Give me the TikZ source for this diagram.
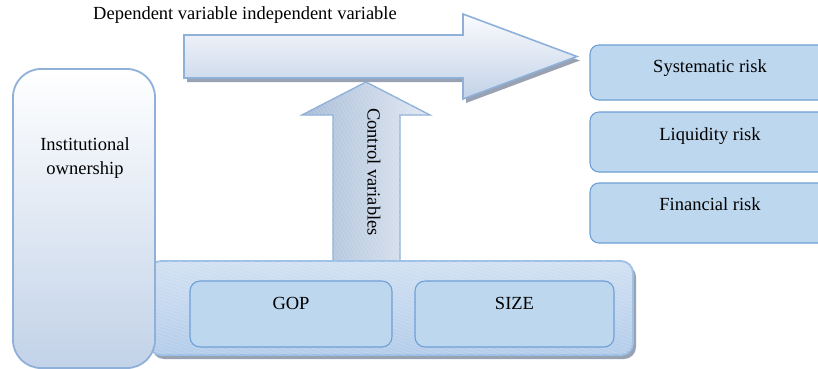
\documentclass[tikz,border=0pt]{standalone}
\usepackage{fontspec}
\setmainfont{Liberation Serif}
\usetikzlibrary{patterns.meta}
\definecolor{edgeblue}{HTML}{8FB0D9}
\definecolor{boxedge}{HTML}{6E9FD6}
\definecolor{boxfill}{HTML}{BDD7EE}
\definecolor{arrowtop}{HTML}{FAFBFD}
\definecolor{arrowbot}{HTML}{C2D2E8}
\definecolor{upleft}{HTML}{A9BDD8}
\definecolor{upright}{HTML}{E2E9F3}
\definecolor{basetop}{HTML}{D2E1F3}
\definecolor{basebot}{HTML}{B4CDEA}
\definecolor{baseedge}{HTML}{9DC0E6}
\definecolor{shadowgray}{HTML}{98A2B2}
\tikzset{
  lbl/.style={font=\fontsize{18.5}{22}\selectfont, text=black, inner sep=0pt},
  riskbox/.style={draw=boxedge, fill=boxfill, line width=1.1pt, rounded corners=9pt,
    minimum width=240pt, inner sep=0pt},
  varbox/.style={draw=boxedge, fill=boxfill, line width=1.1pt, rounded corners=10pt,
    minimum height=66pt, inner sep=0pt},
  hatch/.style={pattern={Lines[angle=#1,distance=3.2pt,line width=0.5pt]},
    pattern color=white, opacity=0.22}
}
\begin{document}
\begin{tikzpicture}[x=1pt,y=-1pt]
\useasboundingbox (0,0) rectangle (818,368);
\clip (0,0) rectangle (818,368);

% main horizontal arrow with its drop shadow
\fill[shadowgray] (187,39) -- (466,39) -- (466,18) -- (580,60.5) -- (466,103) -- (466,82) -- (187,82) -- cycle;
\path[draw=edgeblue, line width=1.6pt, top color=arrowtop, bottom color=arrowbot]
  (184,35) -- (463,35) -- (463,14) -- (577,56.5) -- (463,99) -- (463,78) -- (184,78) -- cycle;

% upward arrow for the control variables
\path[draw=edgeblue, line width=1.4pt, left color=upleft, right color=upright]
  (333,285) -- (333,115) -- (302,115) -- (366,82) -- (430,115) -- (400,115) -- (400,285) -- cycle;
\fill[hatch=-60] (333,285) -- (333,115) -- (302,115) -- (366,82) -- (430,115) -- (400,115) -- (400,285) -- cycle;
\node[lbl, rotate=-90] (ctrl) at (374,172) {Control variables};

% base panel holding the control variables
\fill[shadowgray, rounded corners=12pt] (152,265) rectangle (636,359);
\path[draw=baseedge, line width=1.8pt, top color=basetop, bottom color=basebot, rounded corners=12pt]
  (149,261) rectangle (633,355);
\fill[hatch=-18, rounded corners=12pt] (149,261) rectangle (633,355);

% institutional ownership column
\path[draw=edgeblue, line width=1.8pt, top color=white, bottom color=arrowbot, rounded corners=28pt]
  (13,69) rectangle (155,368);
\node[lbl, align=center] (inst) at (85,158) {Institutional\\[2pt]ownership};

% control variable boxes
\node[varbox, minimum width=202pt] (gop) at (291,314) {};
\node[lbl] (goptxt) at (291,303) {GOP};
\node[varbox, minimum width=199pt] (size) at (514.5,314) {};
\node[lbl] (sizetxt) at (514.5,303) {SIZE};

% risk measures
\node[riskbox, minimum height=55pt] (sys) at (710,72.5) {};
\node[lbl] (systxt) at (710,68) {Systematic risk};
\node[riskbox, minimum height=60pt] (liq) at (710,142) {};
\node[lbl] (liqtxt) at (710,136) {Liquidity risk};
\node[riskbox, minimum height=60pt] (fin) at (710,213) {};
\node[lbl] (fintxt) at (710,204) {Financial risk};

% caption above the main arrow
\node[lbl] (title) at (245,15) {Dependent variable independent variable};
\end{tikzpicture}
\end{document}
